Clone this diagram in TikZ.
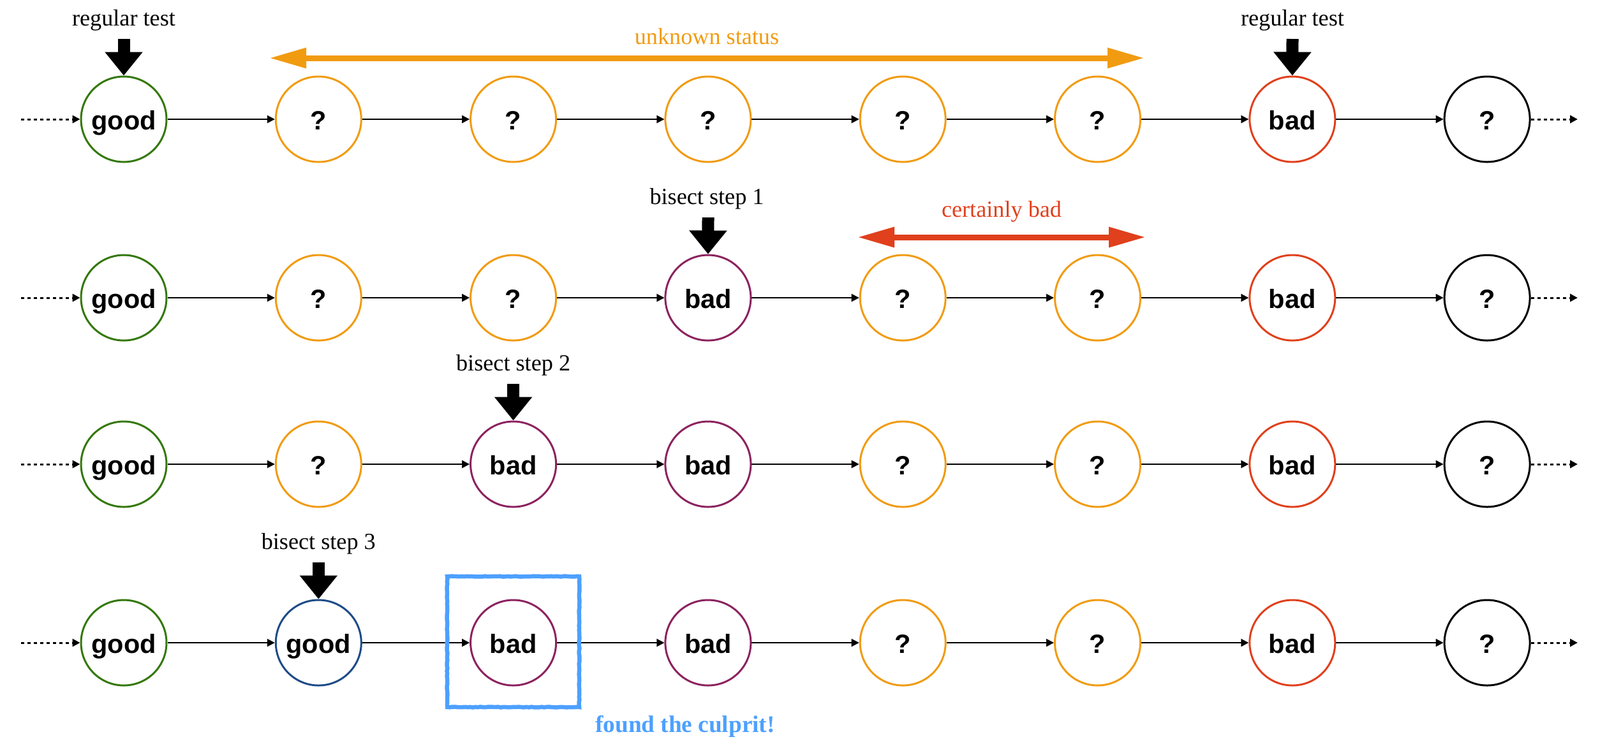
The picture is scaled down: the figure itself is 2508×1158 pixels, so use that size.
\documentclass[tikz,border=0pt]{standalone}
\usepackage{fontspec}
\setmainfont{Liberation Serif}
\newfontfamily\nodefont{Liberation Sans}
\usetikzlibrary{arrows.meta,decorations.pathmorphing}
\definecolor{cgreenc}{RGB}{52,120,10}
\definecolor{corangec}{RGB}{241,155,17}
\definecolor{credc}{RGB}{224,64,28}
\definecolor{cpurplec}{RGB}{140,35,95}
\definecolor{cbluec}{RGB}{30,75,135}
\definecolor{cfound}{RGB}{77,160,255}
\begin{document}
\begin{tikzpicture}[x=0.1mm,y=-0.1mm,
  commit/.style={circle, draw, line width=0.3mm, minimum size=13.4mm, inner sep=0pt,
    text height=3.2mm, text depth=0mm,
    font=\nodefont\bfseries\fontsize{11.8}{14}\selectfont},
  cgood/.style={commit, draw=cgreenc},
  cunk/.style={commit, draw=corangec},
  cbadr/.style={commit, draw=credc},
  cbadp/.style={commit, draw=cpurplec},
  cgoodb/.style={commit, draw=cbluec},
  cplain/.style={commit, draw=black},
  link/.style={-{Triangle[length=1.2mm,width=1.2mm]}, line width=0.22mm},
  dotlink/.style={-{Triangle[length=1.2mm,width=1.2mm]}, line width=0.3mm, dash pattern=on 0.5mm off 0.5mm},
  probe/.style={-{Triangle[length=3.7mm,width=5.7mm]}, line width=1.9mm},
  lbl/.style={font=\fontsize{10.3}{12}\selectfont},
  rangearrow/.style={{Triangle[length=5.8mm,width=3mm]}-{Triangle[length=5.8mm,width=3mm]}, line width=0.9mm}
]
\useasboundingbox (0,0) rectangle (2508,1158);

% row 1
\foreach [count=\c] \s/\t in {cgood/good, cunk/?, cunk/?, cunk/?, cunk/?, cunk/?, cbadr/bad, cplain/?}
  \node[\s] (r1c\c) at ({194+305.3*(\c-1)},187) {\t};
% row 2
\foreach [count=\c] \s/\t in {cgood/good, cunk/?, cunk/?, cbadp/bad, cunk/?, cunk/?, cbadr/bad, cplain/?}
  \node[\s] (r2c\c) at ({194+305.3*(\c-1)},467) {\t};
% row 3
\foreach [count=\c] \s/\t in {cgood/good, cunk/?, cbadp/bad, cbadp/bad, cunk/?, cunk/?, cbadr/bad, cplain/?}
  \node[\s] (r3c\c) at ({194+305.3*(\c-1)},728) {\t};
% row 4
\foreach [count=\c] \s/\t in {cgood/good, cgoodb/good, cbadp/bad, cbadp/bad, cunk/?, cunk/?, cbadr/bad, cplain/?}
  \node[\s] (r4c\c) at ({194+305.3*(\c-1)},1008) {\t};

% links
\foreach \r/\y in {1/187, 2/467, 3/728, 4/1008} {
  \foreach \c in {1,...,7} {
    \pgfmathtruncatemacro{\n}{\c+1}
    \draw[link] (r\r c\c) -- (r\r c\n);
  }
  \coordinate (in\r) at (33,\y);
  \coordinate (out\r) at (2473,\y);
  \draw[dotlink] (in\r) -- (r\r c1);
  \draw[dotlink] (r\r c8) -- (out\r);
}

% probes
\coordinate (p1) at (194,61);
\coordinate (p2) at (2026,61);
\coordinate (p3) at (1110,341);
\coordinate (p4) at (804.6,602);
\coordinate (p5) at (499.3,882);
\draw[probe] (p1) -- (r1c1.north);
\draw[probe] (p2) -- (r1c7.north);
\draw[probe] (p3) -- (r2c4.north);
\draw[probe] (p4) -- (r3c3.north);
\draw[probe] (p5) -- (r4c2.north);
\node[lbl] (l1) at (194,32) {regular test};
\node[lbl] (l2) at (2026,32) {regular test};
\node[lbl] (l3) at (1108,312) {bisect step 1};
\node[lbl] (l4) at (804.6,573) {bisect step 2};
\node[lbl] (l5) at (499.3,853) {bisect step 3};

% ranges
\coordinate (ua) at (422,91);
\coordinate (ub) at (1794,91);
\draw[rangearrow, draw=corangec, fill=corangec] (ua) -- (ub);
\node[lbl, text=corangec] (ulbl) at (1108,57) {unknown status};
\coordinate (ca) at (1344,372);
\coordinate (cb) at (1796,372);
\draw[rangearrow, draw=credc, fill=credc] (ca) -- (cb);
\node[lbl, text=credc] (clbl) at (1570,332) {certainly bad};

% culprit box
\node[draw=cfound, line width=0.65mm, minimum width=20.7mm, minimum height=20.5mm,
  decorate, decoration={random steps, segment length=0.4mm, amplitude=0.05mm}] (culprit) at (804.5,1006.5) {};
\node[font=\bfseries\fontsize{10.6}{12}\selectfont, text=cfound] (found) at (1074,1139) {found the culprit!};
\end{tikzpicture}
\end{document}
